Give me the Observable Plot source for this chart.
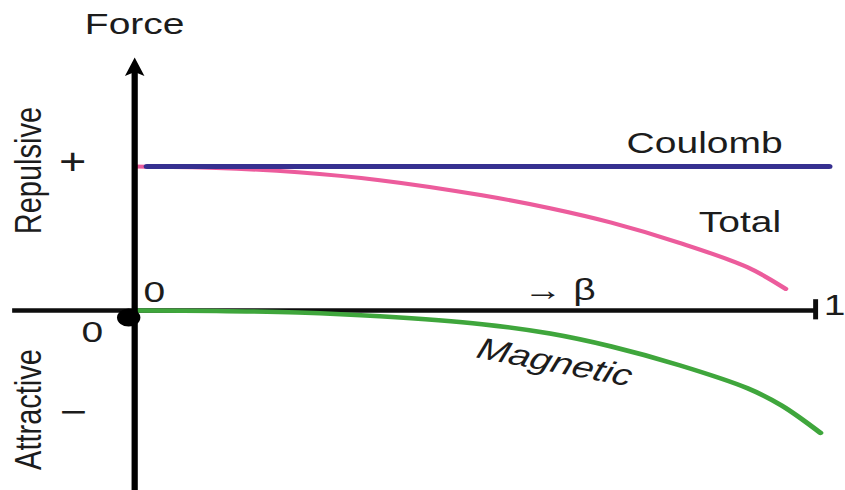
<!DOCTYPE html>
<html>
<head>
<meta charset="utf-8">
<script src="https://cdn.jsdelivr.net/npm/d3@7"></script>
<script src="https://cdn.jsdelivr.net/npm/@observablehq/plot@0.6"></script>
<style>
  html, body { margin: 0; padding: 0; background: #fff; }
  #chart svg { display: block; }
</style>
</head>
<body>
<div id="chart"></div>
<script>
// Force between two like charges moving side by side, as a function of beta = v/c.
// Force is in units of the Coulomb force.
const coulombBeta   = [0.018, 1.02];
const coulombForce  = [1, 1];

const totalBeta     = [0, 0.12, 0.24, 0.36, 0.51, 0.61, 0.70, 0.80, 0.90, 0.956];
const totalForce    = [1.0, 0.99, 0.96, 0.905, 0.80, 0.71, 0.61, 0.47, 0.30, 0.15];

const magneticBeta  = [0, 0.12, 0.24, 0.36, 0.51, 0.61, 0.70, 0.80, 0.90, 0.95, 1.007];
const magneticForce = [0, -0.003, -0.014, -0.04, -0.095, -0.16, -0.25, -0.38, -0.54, -0.66, -0.85];

// Annotation text and where it sits, in (beta, force) units
const labelText  = ["Force", "Coulomb", "Total", "0", "0", "1", "\u2192 \u03B2"];
const labelBeta  = [0, 0.837, 0.889, -0.062, 0.029, 1.028, 0.624];
const labelForce = [1.986, 1.163, 0.615, -0.153, 0.125, 0.035, 0.139];

const signText  = ["+", "\u2212"];
const signBeta  = [-0.091, -0.090];
const signForce = [1.03, -0.71];

const sideText  = ["Repulsive", "Attractive"];
const sideBeta  = [-0.156, -0.156];
const sideForce = [0.972, -0.6875];

const table = (keys, ...cols) => cols[0].map((_, i) => Object.fromEntries(keys.map((k, j) => [k, cols[j][i]])));
const coulomb  = table(["beta", "force"], coulombBeta, coulombForce);
const total    = table(["beta", "force"], totalBeta, totalForce);
const magnetic = table(["beta", "force"], magneticBeta, magneticForce);
const labels = table(["text", "beta", "force"], labelText, labelBeta, labelForce);
const signs  = table(["text", "beta", "force"], signText, signBeta, signForce);
const sides  = table(["text", "beta", "force"], sideText, sideBeta, sideForce);

// Filled arrowhead for the top of the force axis
const arrowHead = {
  draw(ctx, size) {
    const r = Math.sqrt(size / Math.PI);
    ctx.moveTo(0, -r);
    ctx.lineTo(0.75 * r, 0.85 * r);
    ctx.lineTo(0, 0.45 * r);
    ctx.lineTo(-0.75 * r, 0.85 * r);
    ctx.closePath();
  }
};

const ink = "#1c1c1c";
const font = "'Liberation Sans', Arial, Helvetica, sans-serif";

const svg = Plot.plot({
  width: 650,
  height: 490,
  margin: 0,
  style: {fontFamily: font, background: "#fff", overflow: "visible"},
  x: {domain: [0, 1], range: [103.1, 626.9], axis: null},
  y: {domain: [0, 1], range: [310, 166], axis: null},
  marks: [
    Plot.line(total, {x: "beta", y: "force", stroke: "#ec5c9c", strokeWidth: 4, curve: "catmull-rom"}),
    Plot.line(coulomb, {x: "beta", y: "force", stroke: "#363090", strokeWidth: 5}),
    // beta axis with its end tick at beta = 1
    Plot.ruleY([0], {x1: -0.179, x2: 1, stroke: "#0d0d0d", strokeWidth: 4.5}),
    Plot.ruleX([1], {y1: -0.065, y2: 0.075, stroke: "#0d0d0d", strokeWidth: 3.8}),
    Plot.line(magnetic, {x: "beta", y: "force", stroke: "#3fa63c", strokeWidth: 4.5, curve: "catmull-rom"}),
    // force axis
    Plot.ruleX([0], {y1: -1.3, y2: 1.69, stroke: "#000", strokeWidth: 4.8}),
    Plot.dot([0], {x: 0, y: 1.6875, r: 10, symbol: arrowHead, fill: "#000", stroke: null}),
    Plot.dot([0], {x: -0.0088, y: -0.049, r: 9, fill: "#000", stroke: null}),
    Plot.text(labels, {x: "beta", y: "force", text: "text", fontSize: 30, fill: ink,
      textAnchor: "middle", lineAnchor: "middle"}),
    Plot.text(signs, {x: "beta", y: "force", text: "text", fontSize: 36, fill: ink,
      textAnchor: "middle", lineAnchor: "middle"}),
    Plot.text(sides, {x: "beta", y: "force", text: "text", fontSize: 29, fill: ink,
      textAnchor: "middle", lineAnchor: "middle", rotate: -90}),
    Plot.text(["Magnetic"], {x: 0.617, y: -0.361, text: d => d, fontSize: 30, fill: ink,
      fontStyle: "italic", textAnchor: "middle", lineAnchor: "middle", rotate: 13.8})
  ]
});

// Draw the 650-unit-wide figure across the full 845 px page width
svg.setAttribute("width", 845);
svg.setAttribute("height", 490);
svg.setAttribute("preserveAspectRatio", "none");
svg.style.width = "845px";
svg.style.height = "490px";
svg.style.maxWidth = "none";
document.getElementById("chart").append(svg);
</script>
</body>
</html>
